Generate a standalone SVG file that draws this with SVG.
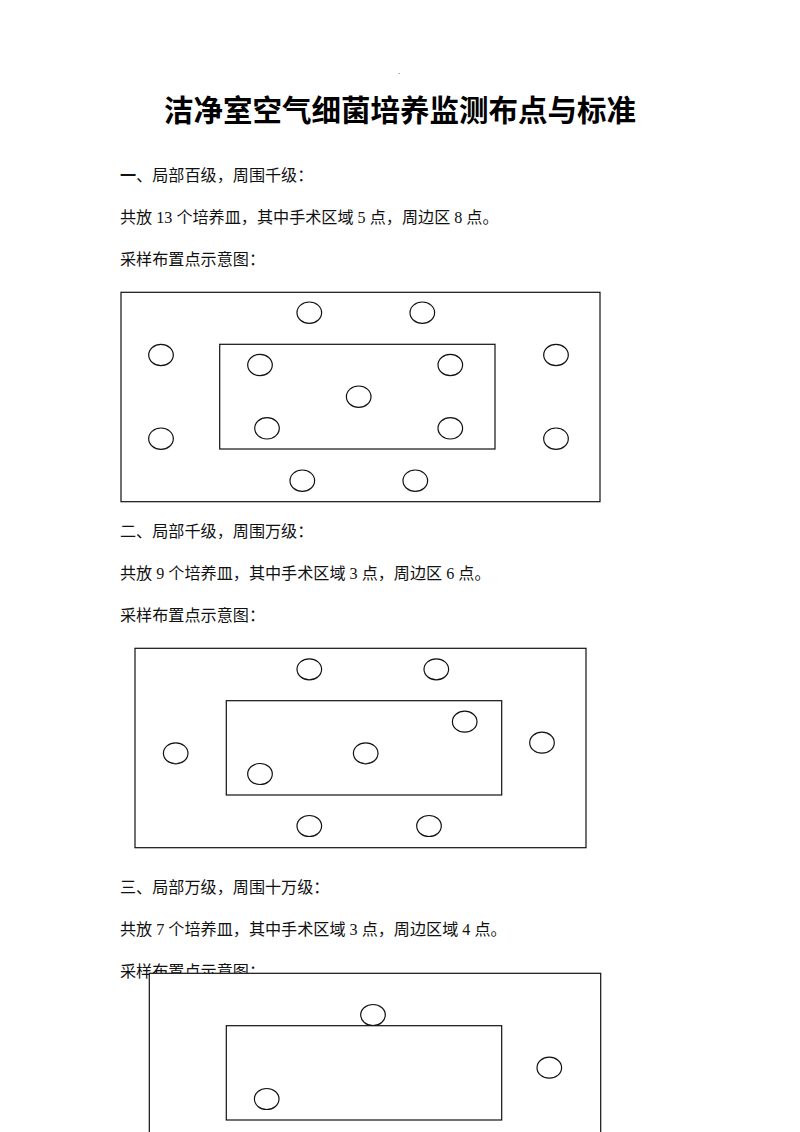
<svg xmlns="http://www.w3.org/2000/svg" width="800" height="1132" viewBox="0 0 800 1132">
<style>
.bg{fill:#fff}
.t{font-family:"Liberation Serif","Noto Sans CJK SC",serif;font-size:16.13px;fill:#111}
.title{font-family:"Noto Sans CJK SC","Liberation Sans",sans-serif;font-size:29.5px;font-weight:700;fill:#000}
.room{fill:#fff;stroke:#111;stroke-width:1.2}
.zone{fill:none;stroke:#111;stroke-width:1.2}
.dish{fill:#fff;stroke:#111;stroke-width:1.2}
</style>
<rect class="bg" x="0" y="0" width="800" height="1132"/>
<text x="398" y="74" style="font-family:'Liberation Serif',serif;font-size:9px;fill:#333">.</text>
<text id="title" class="title" x="400" y="121" text-anchor="middle">洁净室空气细菌培养监测布点与标准</text>

<g id="section1-text">
<text class="t" x="120" y="181"><tspan font-weight="700">一</tspan>、局部百级，周围千级：</text>
<text class="t" x="120" y="223">共放 13 个培养皿，其中手术区域 5 点，周边区 8 点。</text>
<text class="t" x="120" y="265">采样布置点示意图：</text>
</g>
<g id="diagram1">
<rect class="room" x="121" y="292.3" width="479" height="209.4"/>
<rect class="zone" x="219.7" y="344.3" width="275.3" height="104.7"/>
<ellipse class="dish" cx="309.3" cy="312.7" rx="12.3" ry="10.7"/>
<ellipse class="dish" cx="422.3" cy="312.7" rx="12.3" ry="10.7"/>
<ellipse class="dish" cx="161" cy="355" rx="12.3" ry="10.7"/>
<ellipse class="dish" cx="556" cy="355" rx="12.3" ry="10.7"/>
<ellipse class="dish" cx="260" cy="365" rx="12.3" ry="10.7"/>
<ellipse class="dish" cx="450.3" cy="365" rx="12.3" ry="10.7"/>
<ellipse class="dish" cx="358.7" cy="396.7" rx="12.3" ry="10.7"/>
<ellipse class="dish" cx="267" cy="428.3" rx="12.3" ry="10.7"/>
<ellipse class="dish" cx="450.3" cy="428.3" rx="12.3" ry="10.7"/>
<ellipse class="dish" cx="161" cy="438.7" rx="12.3" ry="10.7"/>
<ellipse class="dish" cx="556" cy="438.7" rx="12.3" ry="10.7"/>
<ellipse class="dish" cx="302.3" cy="480.7" rx="12.3" ry="10.7"/>
<ellipse class="dish" cx="415.3" cy="480.7" rx="12.3" ry="10.7"/>
</g>

<g id="section2-text">
<text class="t" x="120" y="537">二、局部千级，周围万级：</text>
<text class="t" x="120" y="579">共放 9 个培养皿，其中手术区域 3 点，周边区 6 点。</text>
<text class="t" x="120" y="621">采样布置点示意图：</text>
</g>
<g id="diagram2">
<rect class="room" x="135" y="648.3" width="451" height="199.4"/>
<rect class="zone" x="226.3" y="700.7" width="275.4" height="94.3"/>
<ellipse class="dish" cx="309.3" cy="669.3" rx="12.3" ry="10.5"/>
<ellipse class="dish" cx="436.3" cy="669.3" rx="12.3" ry="10.5"/>
<ellipse class="dish" cx="464.7" cy="721.7" rx="12.3" ry="10.5"/>
<ellipse class="dish" cx="175.7" cy="753.3" rx="12.3" ry="10.5"/>
<ellipse class="dish" cx="365.7" cy="753.3" rx="12.3" ry="10.5"/>
<ellipse class="dish" cx="542" cy="742.7" rx="12.3" ry="10.5"/>
<ellipse class="dish" cx="260" cy="774" rx="12.3" ry="10.5"/>
<ellipse class="dish" cx="309.3" cy="826" rx="12.3" ry="10.5"/>
<ellipse class="dish" cx="429" cy="826" rx="12.3" ry="10.5"/>
</g>

<g id="section3-text">
<text class="t" x="120" y="893">三、局部万级，周围十万级：</text>
<text class="t" x="120" y="935">共放 7 个培养皿，其中手术区域 3 点，周边区域 4 点。</text>
<text class="t" x="120" y="977">采样布置点示意图：</text>
</g>
<g id="diagram3">
<rect class="room" x="149.3" y="973.3" width="451.4" height="170"/>
<rect class="zone" x="226.3" y="1025.7" width="275.4" height="94.3"/>
<ellipse class="dish" cx="373" cy="1015" rx="12.3" ry="10.5"/>
<ellipse class="dish" cx="549.3" cy="1067.7" rx="12.3" ry="10.5"/>
<ellipse class="dish" cx="266.7" cy="1099" rx="12.3" ry="10.5"/>
</g>
</svg>
